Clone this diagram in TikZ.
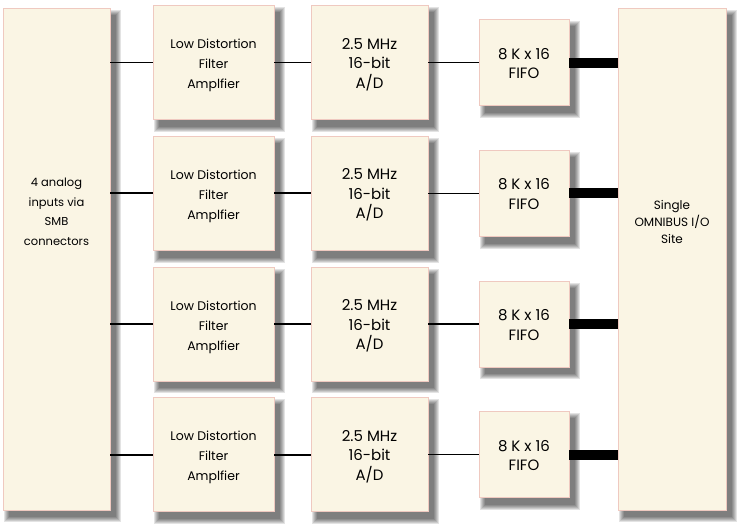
\documentclass[tikz,border=0pt]{standalone}
\usepackage{fontspec}
\setmainfont{Poppins}
\usetikzlibrary{backgrounds}
\definecolor{boxfill}{HTML}{FAF5E4}
\definecolor{boxline}{HTML}{EFC9C0}
\begin{document}
\begin{tikzpicture}[x=1pt,y=-1pt,
  blk/.style={draw=boxline, line width=0.8pt, fill=boxfill, inner sep=0pt},
  lbl/.style={inner sep=0pt, align=center},
  midtxt/.style={lbl, font=\fontsize{12.5}{20}\selectfont},
  bigtxt/.style={lbl, font=\fontsize{15}{19.5}\selectfont},
  shadelayer/.style={fill=black, opacity=0.11},
  wire/.style={draw=black, line width=1.8pt},
  fine/.style={draw=black, line width=1.3pt},
  bus/.style={draw=black, line width=10pt}]
\useasboundingbox (0,0) rectangle (737,523);
\node[blk, minimum width=107pt, minimum height=502pt] (in) at (56.5,259) {};
\node[lbl, font=\fontsize{11.5}{19.5}\selectfont] (inlbl) at (56.5,212) {4 analog\\inputs via\\SMB\\connectors};
\node[blk, minimum width=108pt, minimum height=502pt] (out) at (672,259) {};
\node[lbl, font=\fontsize{12}{17}\selectfont] (outlbl) at (672,222) {Single\\OMNIBUS I/O\\Site};
\foreach \i in {1,...,4} {
  \pgfmathsetmacro\c{62.5+130.7*(\i-1)}
  \node[blk, minimum width=121pt, minimum height=114pt] (ldfa\i) at (213.5,\c) {};
  \node[midtxt] (ldfat\i) at ([yshift=-3pt]ldfa\i.center) {Low Distortion\\Filter\\Amplfier};
  \node[blk, minimum width=117pt, minimum height=114pt] (ad\i) at (369.5,\c) {};
  \node[bigtxt] (adt\i) at ([yshift=-2pt]ad\i.center) {2.5 MHz\\16-bit\\A/D};
  \node[blk, minimum width=90pt, minimum height=86pt] (fifo\i) at (524,\c) {};
  \node[bigtxt] (fifot\i) at ([yshift=-1pt]fifo\i.center) {8 K x 16\\FIFO};
  \draw[wire] (in.east |- ldfa\i.west) -- (ldfa\i.west);
  \draw[wire] (ldfa\i.east) -- (ad\i.west);
  \draw[fine] (ad\i.east) -- (fifo\i.west);
  \draw[bus] (fifo\i.east) -- (out.west |- fifo\i.east);
}
\begin{scope}[on background layer]
  \foreach \n in {in,out,ldfa1,ldfa2,ldfa3,ldfa4,ad1,ad2,ad3,ad4,fifo1,fifo2,fifo3,fifo4} {
    \foreach \k in {0,...,5} {
      \fill[shadelayer] ([xshift={(1+\k)*1pt}, yshift={-(2+\k)*1pt}]\n.north west)
        rectangle ([xshift={(11-\k)*1pt}, yshift={-(12-\k)*1pt}]\n.south east);
    }
  }
\end{scope}
\end{tikzpicture}
\end{document}
